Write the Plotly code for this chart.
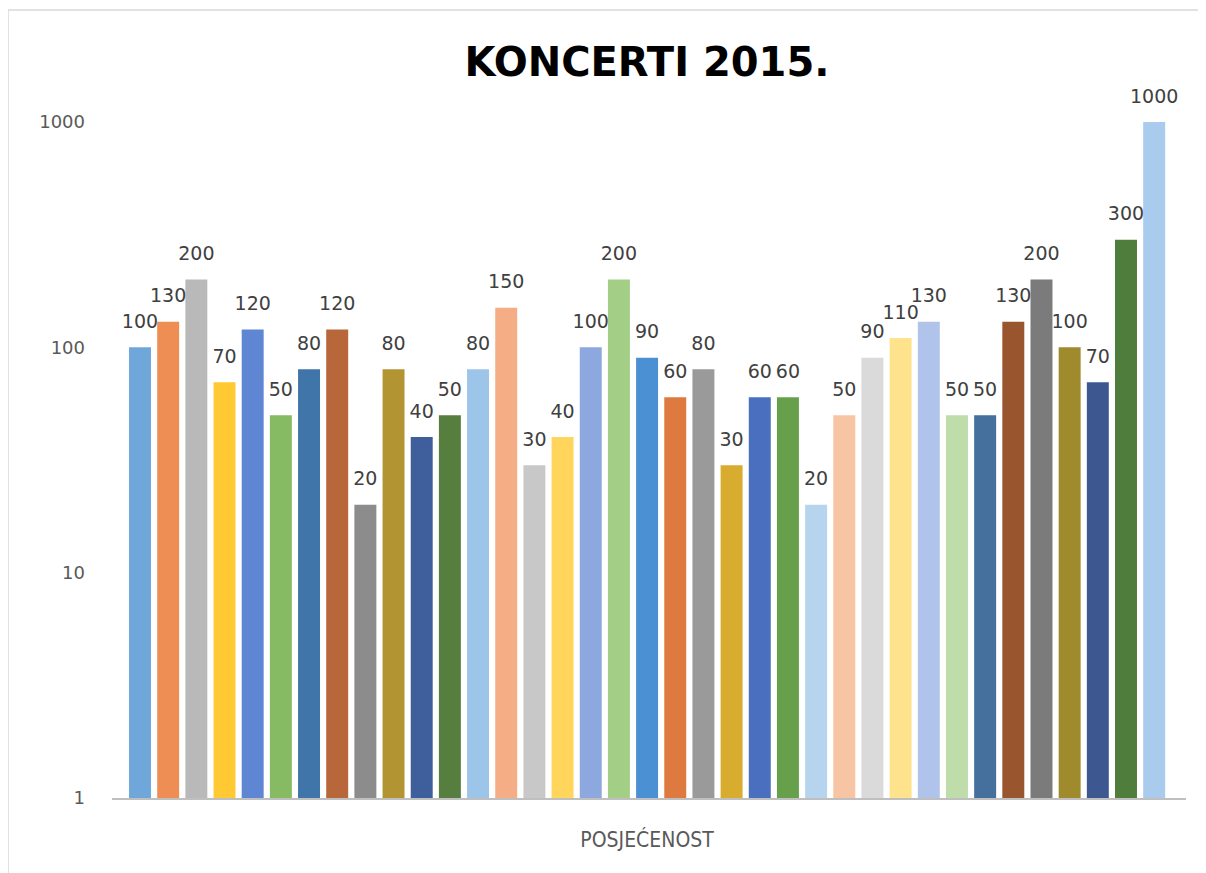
import plotly.graph_objects as go

category = "POSJEĆENOST"
values = [100, 130, 200, 70, 120, 50, 80, 120, 20, 80, 40, 50, 80, 150, 30, 40,
          100, 200, 90, 60, 80, 30, 60, 60, 20, 50, 90, 110, 130, 50, 50, 130,
          200, 100, 70, 300, 1000]
colors = ["#6FA7DB", "#EE8E55", "#B9B9B9", "#FFC933", "#5F86D3", "#86BA63",
          "#3F75A8", "#B8673A", "#8C8C8C", "#B39433", "#3E5E9C", "#567F3F",
          "#9DC5EA", "#F4AD85", "#C8C8C8", "#FFD55C", "#8DA8DE", "#A2CF85",
          "#4A90D2", "#DE7A3F", "#9A9A9A", "#D8AC2F", "#4B6FBF", "#67A04A",
          "#B7D4EF", "#F7C4A4", "#DADADA", "#FFE38C", "#B0C3EA", "#BEDDAA",
          "#456F9C", "#99552E", "#7B7B7B", "#A08A2E", "#3D5790", "#4F7D3B",
          "#A8CBEE"]
tick_vals = [1, 10, 100, 1000]
tick_text = ["1", "10", "100", "1000"]

idx = list(range(len(values)))
center = (len(values) - 1) / 2

fig = go.Figure()
fig.add_trace(go.Bar(
    x=idx, y=values, width=0.78,
    marker=dict(color=colors, line=dict(width=0)),
    showlegend=False, hoverinfo="y",
))
fig.add_trace(go.Scatter(
    x=idx, y=values, mode="markers+text",
    marker=dict(size=22, opacity=0),
    text=[str(v) for v in values], textposition="top center",
    textfont=dict(family="DejaVu Sans", size=19, color="#404040"),
    cliponaxis=False, showlegend=False, hoverinfo="skip",
))

fig.update_layout(
    width=1206, height=873,
    margin=dict(l=104, r=28, t=114, b=83),
    paper_bgcolor="white", plot_bgcolor="white",
    title=dict(text="<b>KONCERTI 2015.</b>", x=639 / 1206, xanchor="center",
               y=1 - 54 / 873, yanchor="middle", yref="container",
               font=dict(family="DejaVu Sans", size=40, color="#000000")),
    xaxis=dict(range=[-0.994, 37.13], showgrid=False, zeroline=False,
               showline=True, linecolor="#BFBFBF", linewidth=2,
               tickvals=[center], ticktext=[category], ticks="",
               tickfont=dict(family="DejaVu Sans Condensed", size=21, color="#595959"),
               ticklabelstandoff=22),
    yaxis=dict(type="log", range=[0, 3], showgrid=False, zeroline=False,
               showline=False, tickvals=tick_vals, ticktext=tick_text,
               tickfont=dict(family="DejaVu Sans", size=18, color="#595959"),
               ticks="", ticklabelstandoff=26),
    shapes=[
        dict(type="line", xref="paper", yref="paper",
             x0=(0 - 104) / 1074, x1=(1206 - 104) / 1074,
             y0=(790 - 2) / 676, y1=(790 - 2) / 676,
             line=dict(color="#D9D9D9", width=1.5)),
        dict(type="line", xref="paper", yref="paper",
             x0=(0 - 104) / 1074, x1=(0 - 104) / 1074,
             y0=(790 - 2) / 676, y1=(790 - 873) / 676,
             line=dict(color="#D9D9D9", width=1.5)),
    ],
)

fig.write_html("out.html")
